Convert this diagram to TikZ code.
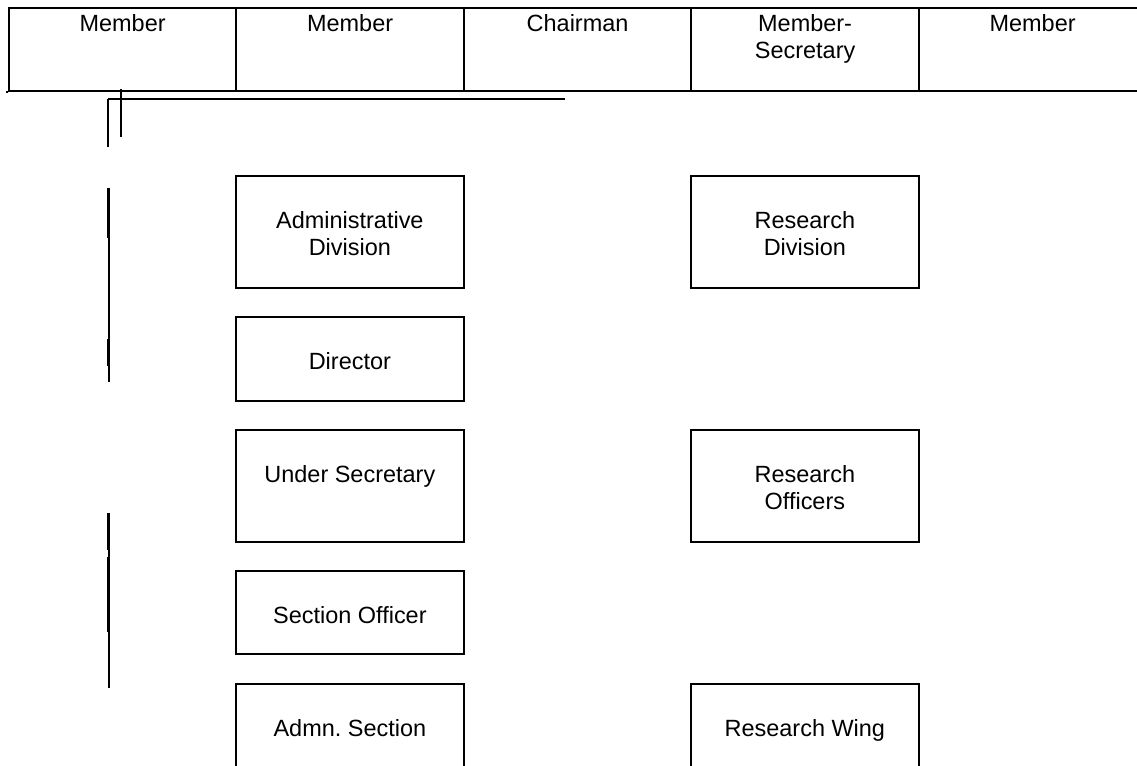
\documentclass[tikz,border=0pt]{standalone}
\usepackage{fontspec}
\setmainfont{Liberation Sans}
\usepackage{tikz}
\colorlet{postline}{black}

\begin{document}
\begin{tikzpicture}[x=0.75pt,y=-0.75pt,
        post/.style={draw=postline, line width=1.3pt, anchor=north west, inner sep=0pt},
        posttext/.style={anchor=north, inner sep=0pt, align=center, font=\fontsize{17.6}{20.3}\selectfont},
        hair/.style={draw=postline, line width=0.8pt},
        tick/.style={draw=postline, line width=2pt}]
        \useasboundingbox (0,0) rectangle (1137,766);
        % the board
        \foreach \txt [count=\i from 0] in {Member,Member,Chairman,Member-\\Secretary,Member}{
            \node[post, minimum width=170.6pt, minimum height=62.25pt,
                label={[posttext,yshift=-5.25pt]north:\txt}] (board\i) at (8+227.5*\i,7) {};
        }
        \draw[postline, line width=1.3pt] (board0.south west) -- ++(-2,0);
        % the two divisions
        \foreach \name/\x/\y/\h/\txt in {adm/235/175/112/Administrative\\Division,
            dir/235/316/84/Director, usec/235/429/112/Under Secretary,
            secoff/235/570/83/Section Officer, admsec/235/683/112/Admn.\ Section,
            rdiv/690/175/112/Research\\Division, roff/690/429/112/Research\\Officers,
            rwing/690/683/112/Research Wing}{
            \node[post, minimum width=171pt, minimum height=\h*0.75pt,
                label={[posttext,yshift=-27pt]north:\txt}] (\name) at (\x,\y) {};
        }
        \coordinate (rail) at (108,99);
        \coordinate (railend) at (565,99);
        \draw[line width=1pt] (railend) -- (rail);
        \draw[tick] (rail) -- ++(0,48);
        \draw[hair] (121,89) -- (121,137);
        \foreach \a/\b in {188/382,513/688}{
            \draw[hair] (109,\a) -- (109,\b);
        }
        \foreach \a/\b in {188/238,339/366,513/550,557/632}{
            \draw[tick] (108,\a) -- (108,\b);
        }
    \end{tikzpicture}
\end{document}
